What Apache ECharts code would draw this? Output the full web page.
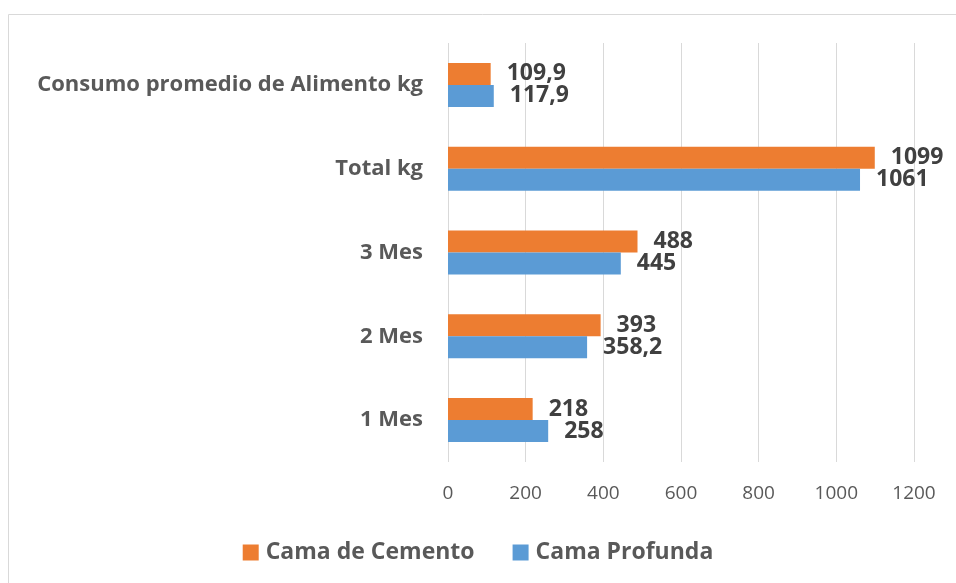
<!DOCTYPE html>
<html>
<head>
<meta charset="utf-8">
<script src="https://cdn.jsdelivr.net/npm/echarts@6/dist/echarts.min.js"></script>
<style>
  html, body { margin: 0; padding: 0; background: #fff; }
  #chart { width: 956px; height: 583px; }
</style>
</head>
<body>
<div id="chart"></div>
<script>
// datos
var categorias = ['1 Mes', '2 Mes', '3 Mes', 'Total kg', 'Consumo promedio de Alimento kg'];
var cemento = [218, 393, 488, 1099, 109.9];
var profunda = [258, 358.2, 445, 1061, 117.9];
var ticksX = [0, 200, 400, 600, 800, 1000, 1200];

var fuente = 'Open Sans';

function etiqueta(p) {
    return String(p.value).replace('.', ',');
}

var myChart = echarts.init(document.getElementById('chart'));
var option = {
    animation: false,
    graphic: [{
        type: 'rect',
        shape: { x: 8.5, y: 14.5, width: 1000, height: 700 },
        style: { fill: 'none', stroke: '#d9d9d9', lineWidth: 1 },
        silent: true
    }],
    legend: {
        data: ['Cama de Cemento', 'Cama Profunda'],
        top: 536,
        left: 'center',
        itemWidth: 16,
        itemHeight: 16,
        itemGap: 38,
        icon: 'rect',
        textStyle: { color: '#595959', fontSize: 23, fontWeight: 'bold', fontFamily: fuente, padding: [0, 0, 0, 2] }
    },
    grid: {
        left: 448,
        right: 42,
        top: 43,
        bottom: 121
    },
    xAxis: {
        type: 'value',
        min: 0,
        max: 1200,
        interval: 200,
        axisLine: { show: false },
        axisTick: { show: false },
        splitLine: { lineStyle: { color: '#d9d9d9', width: 1 } },
        axisLabel: {
            color: '#595959', fontSize: 19, fontFamily: fuente, margin: 22,
            formatter: function (v) { return ticksX.indexOf(v) >= 0 ? String(v) : ''; }
        }
    },
    yAxis: {
        type: 'category',
        data: categorias,
        axisLine: { show: false },
        axisTick: { show: false },
        axisLabel: { color: '#595959', fontSize: 22, fontWeight: 'bold', fontFamily: fuente, margin: 25 }
    },
    series: [
        {
            name: 'Cama de Cemento',
            type: 'bar',
            data: cemento,
            barWidth: 22,
            barGap: '0%',
            itemStyle: { color: '#ed7d31' },
            label: {
                show: true, position: 'right', distance: 16, formatter: etiqueta,
                color: '#404040', fontSize: 23, fontWeight: 'bold', fontFamily: fuente
            }
        },
        {
            name: 'Cama Profunda',
            type: 'bar',
            data: profunda,
            barWidth: 22,
            barGap: '0%',
            itemStyle: { color: '#5b9bd5' },
            label: {
                show: true, position: 'right', distance: 16, formatter: etiqueta,
                color: '#404040', fontSize: 23, fontWeight: 'bold', fontFamily: fuente
            }
        }
    ]
};
myChart.setOption(option);
</script>
</body>
</html>
